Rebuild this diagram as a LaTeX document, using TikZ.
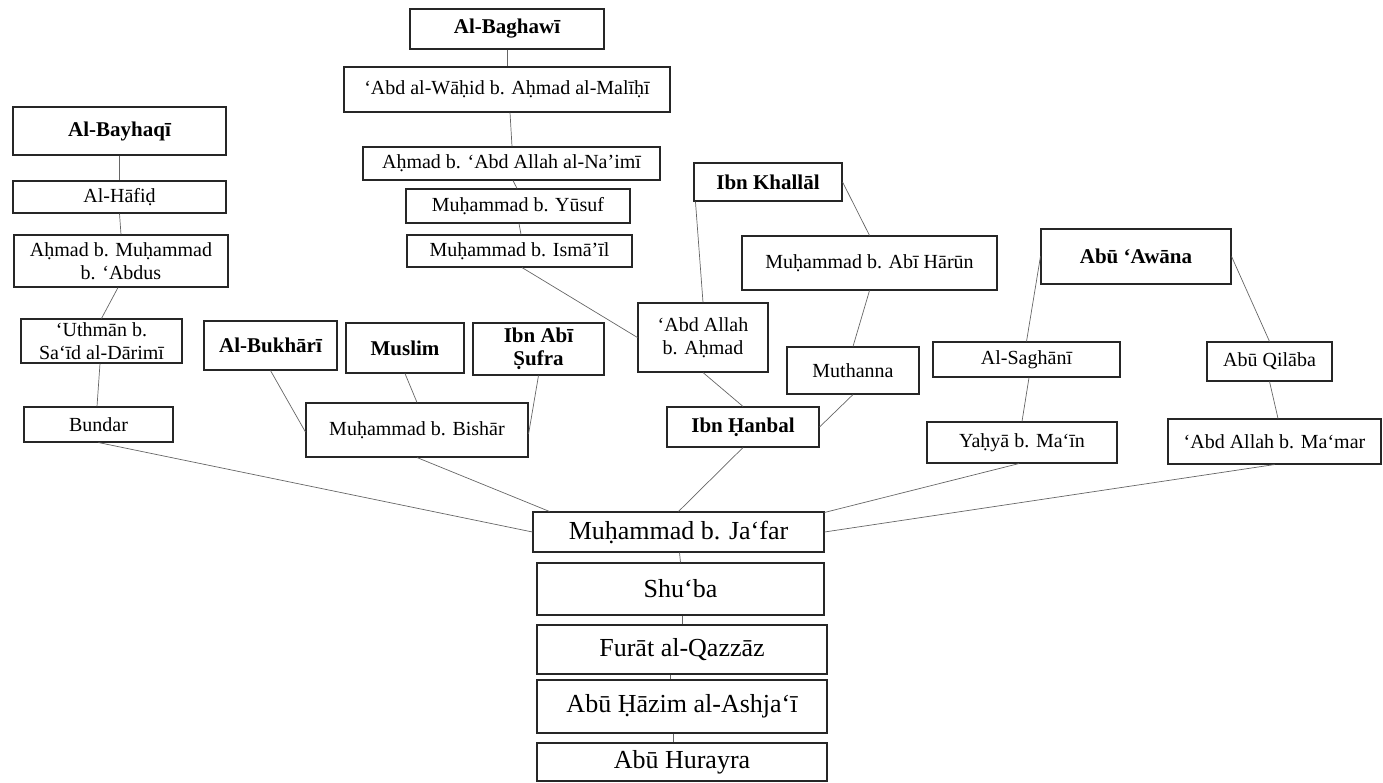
\documentclass[tikz,border=0pt]{standalone}
\usepackage{fontspec}
\setmainfont{Liberation Serif}
\begin{document}
\begin{tikzpicture}[x=1pt,y=-1pt,
  bx/.style={draw=black!85,line width=1.1pt,inner sep=0pt,align=center,
    font=\fontsize{20}{23}\selectfont},
  bxb/.style={bx,font=\fontsize{21}{23}\selectfont\bfseries},
  big/.style={bx,font=\fontsize{26}{30}\selectfont},
  ln/.style={draw=black!60,line width=0.7pt}]
\useasboundingbox (0,0) rectangle (1383,783);
\newcommand{\bxat}[6]{\node[#1,minimum width=#4,minimum height=#5] (#2) at #3 {#6};}
% chain through al-Baghawi
\bxat{bxb}{bagh}{(507,29)}{194}{40}{Al-Baghawī}
\bxat{bx}{wahid}{(507,89.5)}{326}{45}{‘Abd al-Wāḥid b. Aḥmad al-Malīḥī}
\bxat{bx}{naimi}{(511.5,163.5)}{297}{33}{Aḥmad b. ‘Abd Allah al-Na’imī}
\bxat{bx}{yusuf}{(518,206)}{224}{34}{Muḥammad b. Yūsuf}
\bxat{bx}{ismail}{(519.5,251)}{225}{32}{Muḥammad b. Ismā’īl}
% chain through al-Bayhaqi
\bxat{bxb}{bayh}{(119.5,131)}{213}{48}{Al-Bayhaqī}
\bxat{bx}{hafid}{(119.5,197)}{213}{32}{Al-Hāfiḍ}
\bxat{bx}{abdus}{(121,261)}{214}{52}{Aḥmad b. Muḥammad\\b. ‘Abdus}
\bxat{bx}{uthman}{(101.5,341)}{161}{44}{‘Uthmān b.\\Sa‘īd al-Dārimī}
\bxat{bx}{bundar}{(98.5,424.5)}{149}{35}{Bundar}
% Muhammad b. Bishar and his students
\bxat{bxb}{bukh}{(270.5,345.5)}{133}{49}{Al-Bukhārī}
\bxat{bxb}{muslim}{(405,348)}{118}{50}{Muslim}
\bxat{bxb}{sufra}{(538.5,349)}{131}{52}{Ibn Abī\\Ṣufra}
\bxat{bx}{bishar}{(417,430)}{222}{54}{Muḥammad b. Bishār}
% Ibn Hanbal branch
\bxat{bxb}{khallal}{(768,182)}{148}{38}{Ibn Khallāl}
\bxat{bx}{harun}{(869.5,263)}{255}{54}{Muḥammad b. Abī Hārūn}
\bxat{bx}{abdallah}{(703,337.5)}{130}{69}{‘Abd Allah\\b. Aḥmad}
\bxat{bx}{muthanna}{(853,370.5)}{132}{47}{Muthanna}
\bxat{bxb}{hanbal}{(743,427)}{152}{40}{Ibn Ḥanbal}
% Abu Awana branch
\bxat{bxb}{awana}{(1136,256.5)}{190}{55}{Abū ‘Awāna}
\bxat{bx}{saghani}{(1026.5,359.5)}{187}{35}{Al-Saghānī}
\bxat{bx}{qilaba}{(1269.5,361.5)}{125}{39}{Abū Qilāba}
\bxat{bx}{yahya}{(1022,442.5)}{190}{41}{Yaḥyā b. Ma‘īn}
\bxat{bx}{mamar}{(1274.5,441.5)}{213}{45}{‘Abd Allah b. Ma‘mar}
% common link and the chain below it
\bxat{big}{jafar}{(678.5,532)}{291}{40}{Muḥammad b. Ja‘far}
\bxat{big}{shuba}{(680.5,589)}{287}{52}{Shu‘ba}
\bxat{big}{furat}{(682,649.5)}{290}{49}{Furāt al-Qazzāz}
\bxat{big}{hazim}{(682,706.5)}{290}{53}{Abū Ḥāzim al-Ashja‘ī}
\bxat{big}{hurayra}{(682,762)}{290}{38}{Abū Hurayra}
% connectors
\draw[ln] (bagh.south) -- (wahid.north);
\draw[ln] ([xshift=3]wahid.south) -- ([xshift=0.5]naimi.north);
\draw[ln] ([xshift=1.5]naimi.south) -- ([xshift=-1]yusuf.north);
\draw[ln] ([xshift=1]yusuf.south) -- ([xshift=1.5]ismail.north);
\draw[ln] ([xshift=2.5]ismail.south) -- (abdallah.west);
\draw[ln] (bayh.south) -- (hafid.north);
\draw[ln] (hafid.south) -- (abdus.north);
\draw[ln] ([xshift=-3]abdus.south) -- (uthman.north);
\draw[ln] ([xshift=-1.5]uthman.south) -- ([xshift=-1.5]bundar.north);
\draw[ln] (bundar.south) -- (jafar.west);
\draw[ln] (bukh.south) -- ([yshift=-2]bishar.west);
\draw[ln] (muslim.south) -- (bishar.north);
\draw[ln] (sufra.south) -- ([yshift=-4]bishar.east);
\draw[ln] (bishar.south) -- ([xshift=17]jafar.north west);
\draw[ln] ([xshift=2]khallal.south west) -- (abdallah.north);
\draw[ln] (khallal.east) -- (harun.north);
\draw[ln] (harun.south) -- (muthanna.north);
\draw[ln] (abdallah.south) -- (hanbal.north);
\draw[ln] (muthanna.south) -- (hanbal.east);
\draw[ln] (hanbal.south) -- (jafar.north);
\draw[ln] (awana.west) -- (saghani.north);
\draw[ln] (awana.east) -- (qilaba.north);
\draw[ln] ([xshift=2.5]saghani.south) -- (yahya.north);
\draw[ln] (qilaba.south) -- ([xshift=3.5]mamar.north);
\draw[ln] ([xshift=-3]yahya.south) -- ([yshift=-1]jafar.north east);
\draw[ln] (mamar.south) -- (jafar.east);
\draw[ln] ([xshift=1]jafar.south) -- (shuba.north);
\draw[ln] ([xshift=1.5]shuba.south) -- (furat.north);
\draw[ln] ([xshift=-12]furat.south) -- ([xshift=-12]hazim.north);
\draw[ln] ([xshift=-9]hazim.south) -- ([xshift=-9]hurayra.north);
\end{tikzpicture}
\end{document}
